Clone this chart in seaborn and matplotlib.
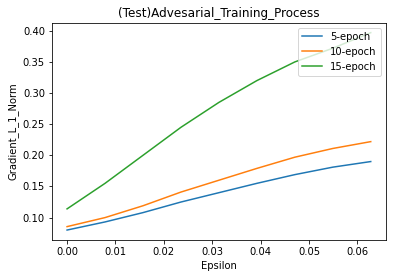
import numpy as np
import pandas as pd
import matplotlib
matplotlib.use("Agg")
import matplotlib.pyplot as plt
import seaborn as sns

# epsilon steps (k/255)
epsilon = [0 / 255, 2 / 255, 4 / 255, 6 / 255, 8 / 255, 10 / 255, 12 / 255, 14 / 255, 16 / 255]
epoch_5 = [0.080, 0.093, 0.108, 0.125, 0.140, 0.155, 0.169, 0.181, 0.190]
epoch_10 = [0.0855, 0.100, 0.119, 0.141, 0.160, 0.179, 0.197, 0.211, 0.222]
epoch_15 = [0.114, 0.155, 0.200, 0.245, 0.285, 0.320, 0.350, 0.372, 0.397]
labels = ["5-epoch", "10-epoch", "15-epoch"]

fig = plt.figure(figsize=(393 / 72, 278 / 72), dpi=72)
ax = fig.add_subplot(111)
fig.subplots_adjust(left=0.132, right=0.982, top=0.918, bottom=0.137)

for vals, lab in zip([epoch_5, epoch_10, epoch_15], labels):
    sns.lineplot(x=epsilon, y=vals, label=lab, ax=ax)

ax.set_title("(Test)Advesarial_Training_Process")
ax.set_xlabel("Epsilon")
ax.set_ylabel("Gradient_L_1_Norm")
ax.legend(loc="upper right")

fig.savefig("out.png", dpi=72)
